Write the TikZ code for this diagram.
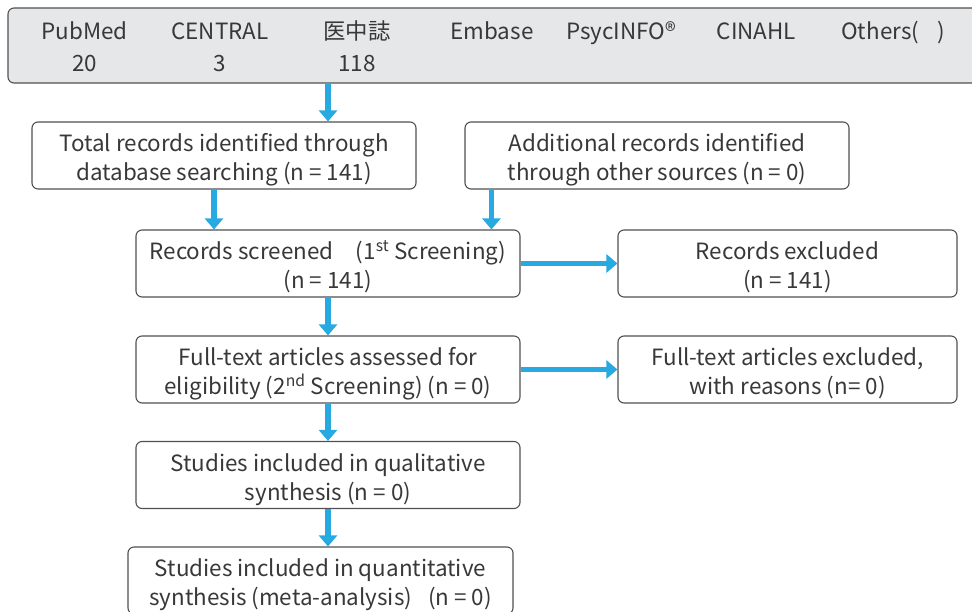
\documentclass[tikz,border=0pt]{standalone}
\usepackage{fontspec}
\setmainfont{Noto Sans CJK JP}
\usetikzlibrary{arrows.meta,positioning,calc}
\definecolor{Ink}{HTML}{383838}
\definecolor{Frame}{HTML}{505050}
\definecolor{Panel}{HTML}{E6E7E8}
\definecolor{Cyan}{HTML}{27A9E1}
\tikzset{
  record/.style={draw=Frame,line width=1.1pt,rounded corners=6pt,minimum width=384pt,minimum height=67pt,align=center,text=Ink,font=\fontsize{22.4}{29}\selectfont,inner sep=0pt,
    text height=54pt,text depth=4pt},
  excluded/.style={record,minimum width=339pt},
  panel/.style={draw=Frame,fill=Panel,line width=1.1pt,rounded corners=6pt,minimum width=982pt,minimum height=75pt,inner sep=0pt},
  dbname/.style={text=Ink,font=\fontsize{22.4}{29}\selectfont,inner sep=0pt,anchor=base},
  line/.style={-{Triangle[width=18pt,length=11pt]},line width=5.5pt,color=Cyan}
}

\begin{document}
\begin{tikzpicture}[x=1pt,y=1pt]
  \useasboundingbox (0,0) rectangle (972,-612);
  \clip (0,0) rectangle (972,-612);

  % databases searched
  \node[panel] (dbbox) at (499,-45.5) {};
  \foreach \db/\hits/\x [count=\i] in {PubMed/20/84.5, CENTRAL/3/220, 医中誌/118/357, Embase//492, PsycINFO®//621, CINAHL//756.5, Others(\hspace{18pt})//893} {
    \node[dbname] (db\i) at (\x,-40) {\db};
    \node[dbname] (hits\i) at (\x,-72) {\hits};
  }

  % identification
  \node[record] (total) at (224,-155.5) {Total records identified through\\database searching (n = 141)};
  \node[record] (addl) at (657,-155.5) {Additional records identified\\through other sources (n = 0)};

  % screening
  \node[record] (screened) at (328,-263.5) {Records screened　(1\textsuperscript{st} Screening)\\(n = 141)};
  \node[excluded] (recexcl) at (787.5,-263.5) {Records excluded\\(n = 141)};
  \node[record] (fulltext) at (328,-369.5) {Full-text articles assessed for\\eligibility (2\textsuperscript{nd} Screening) (n = 0)};
  \node[excluded] (ftexcl) at (787.5,-369.5) {Full-text articles excluded,\\with reasons (n= 0)};

  % included
  \node[record] (quali) at (328,-475) {Studies included in qualitative\\synthesis\hspace{5pt}(n = 0)};
  \node[record,minimum width=385pt] (quanti) at (320.5,-580.5) {Studies included in quantitative\\synthesis\hspace{5pt}(meta-analysis)\hspace{16pt}(n = 0)};

  \draw[line] (dbbox.south -| screened.north) -- (total.north -| screened.north);
  \draw[line] ([xshift=-10pt]total.south) -- ([xshift=-10pt]total.south |- screened.north);
  \draw[line] ([xshift=27pt]addl.south west) -- ([xshift=27pt]addl.south west |- screened.north);
  \draw[line] (screened) -- (recexcl);
  \draw[line] (screened) -- (fulltext);
  \draw[line] (fulltext) -- (ftexcl);
  \draw[line] (fulltext) -- (quali);
  \draw[line] (quali.south) -- (quali.south |- quanti.north);
\end{tikzpicture}
\end{document}
